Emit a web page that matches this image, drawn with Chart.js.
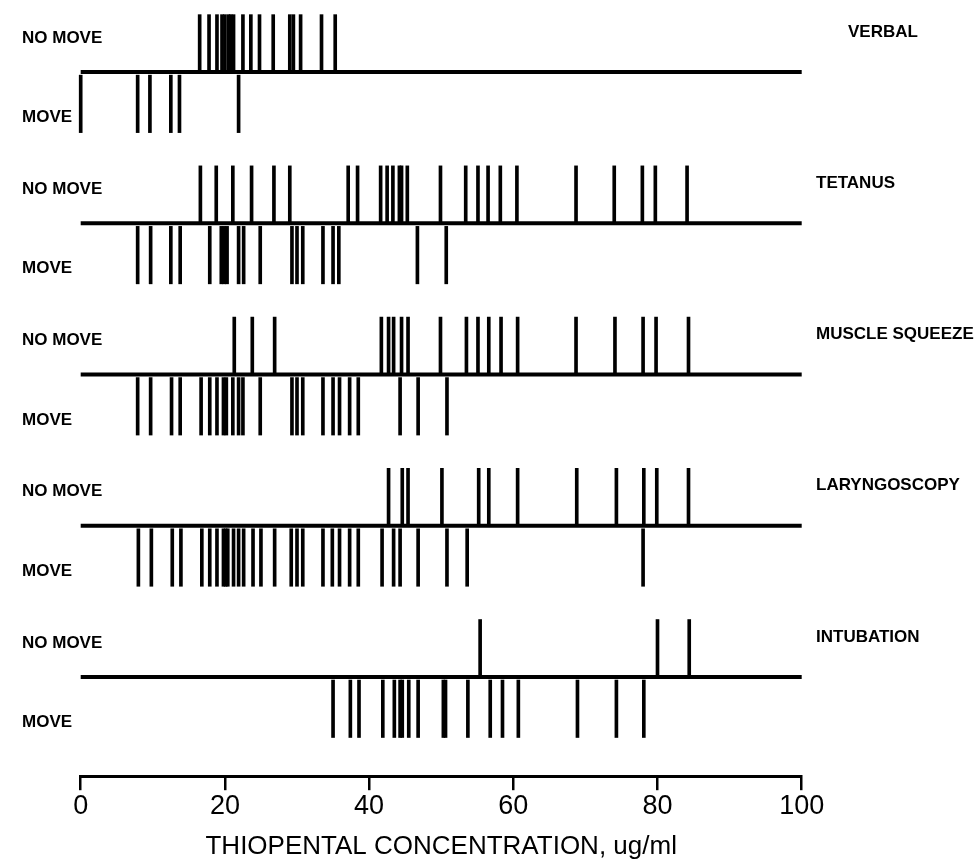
<!DOCTYPE html>
<html>
<head>
<meta charset="utf-8">
<title>Thiopental concentration</title>
<script src="https://cdn.jsdelivr.net/npm/chart.js@4/dist/chart.umd.min.js"></script>
<style>
  html, body { margin: 0; padding: 0; background: #fff; }
  #wrap { width: 978px; height: 865px; position: relative; }
</style>
</head>
<body>
<div id="wrap"><canvas id="stimChart"></canvas></div>
<script>
// stimulus rows, top to bottom
const categories = ['VERBAL', 'TETANUS', 'MUSCLE SQUEEZE', 'LARYNGOSCOPY', 'INTUBATION'];
const xTicks = [0, 20, 40, 60, 80, 100];

// concentrations (ug/ml)
const verbalNoMove = [16.5, 17.8, 18.9, 19.6, 20.0, 20.5, 20.8, 21.2, 22.5, 23.6, 24.8, 26.7, 29.0, 29.5, 30.5, 33.4, 35.3];
const verbalMove = [0, 7.9, 9.6, 12.5, 13.7, 21.9];

const tetanusNoMove = [16.6, 18.8, 21.1, 23.7, 26.8, 29.0, 37.1, 38.4, 41.6, 42.5, 43.3, 44.2, 44.5, 45.3, 49.9, 53.4, 55.1, 56.5, 58.2, 60.5, 68.7, 74.0, 77.9, 79.7, 84.1];
const tetanusMove = [7.9, 9.7, 12.5, 13.8, 17.9, 19.5, 19.9, 20.3, 21.9, 22.6, 24.9, 29.3, 30.0, 30.8, 33.6, 35.0, 35.8, 46.7, 50.7];

const muscleNoMove = [21.3, 23.8, 26.9, 41.7, 42.7, 43.4, 44.5, 45.4, 49.9, 53.5, 55.1, 56.6, 58.3, 60.6, 68.7, 74.1, 78.0, 79.8, 84.3];
const muscleMove = [7.9, 9.7, 12.6, 13.8, 16.7, 17.9, 18.9, 19.8, 20.2, 21.1, 21.9, 22.5, 24.9, 29.3, 30.0, 30.8, 33.6, 35.0, 35.9, 37.3, 38.5, 44.3, 46.8, 50.8];

const laryngNoMove = [42.7, 44.6, 45.4, 50.1, 55.2, 56.6, 60.6, 68.8, 74.3, 78.1, 79.9, 84.3];
const laryngMove = [8.0, 9.8, 12.7, 13.9, 16.8, 17.9, 18.9, 19.8, 20.1, 20.4, 21.2, 21.9, 22.6, 23.9, 25.0, 26.9, 29.2, 30.0, 30.8, 33.6, 34.9, 35.9, 37.3, 38.5, 41.8, 43.4, 44.3, 46.8, 50.8, 53.6, 78.0];

const intubNoMove = [55.4, 80.0, 84.4];
const intubMove = [35.0, 37.4, 38.6, 41.9, 43.5, 44.3, 44.6, 45.5, 46.8, 50.3, 50.6, 53.7, 56.8, 58.5, 60.7, 68.9, 74.3, 78.1];

const noMoveRows = [verbalNoMove, tetanusNoMove, muscleNoMove, laryngNoMove, intubNoMove];
const moveRows = [verbalMove, tetanusMove, muscleMove, laryngMove, intubMove];

// one row = one unit on the hidden y scale; bottom row sits at 0
const TICK_UP = [0.0, 0.38];
const TICK_DOWN = [-0.02, -0.40];
const FONT = '"Liberation Sans", Arial, sans-serif';

// all ticks go into one floating-bar dataset so bars stay centred on their x value
const tickBars = [];
categories.forEach(function (name, i) {
    const level = categories.length - 1 - i;
    noMoveRows[i].forEach(function (v) {
        tickBars.push({ x: v, y: [level + TICK_UP[0], level + TICK_UP[1]] });
    });
    moveRows[i].forEach(function (v) {
        tickBars.push({ x: v, y: [level + TICK_DOWN[0], level + TICK_DOWN[1]] });
    });
});

const baselines = categories.map(function (name, i) {
    const level = categories.length - 1 - i;
    return {
        type: 'line',
        label: name,
        data: [{ x: xTicks[0], y: level }, { x: xTicks[xTicks.length - 1], y: level }],
        borderColor: '#000',
        borderWidth: 4,
        pointRadius: 0,
        clip: false
    };
});

// text labels beside each row
const rowLabels = {
    id: 'rowLabels',
    afterDraw: function (chart) {
        const ctx = chart.ctx;
        const y = chart.scales.y;
        ctx.save();
        ctx.fillStyle = '#000';
        ctx.textBaseline = 'middle';
        ctx.textAlign = 'left';
        categories.forEach(function (name, i) {
            const level = categories.length - 1 - i;
            ctx.font = 'bold 17px ' + FONT;
            ctx.fillText('NO MOVE', 22, y.getPixelForValue(level + 0.225));
            ctx.fillText('MOVE', 22, y.getPixelForValue(level - 0.30));
            ctx.font = 'bold 17px ' + FONT;
            ctx.fillText(name, i === 0 ? 848 : 816, y.getPixelForValue(level + 0.265));
        });
        ctx.restore();
    }
};

const ctx = document.getElementById('stimChart').getContext('2d');
new Chart(ctx, {
    type: 'bar',
    data: {
        datasets: [{
            label: 'ticks',
            data: tickBars,
            backgroundColor: '#000',
            borderWidth: 0,
            barThickness: 3,
            clip: false
        }].concat(baselines)
    },
    options: {
        responsive: true,
        maintainAspectRatio: false,
        animation: false,
        layout: {
            autoPadding: false,
            padding: { left: 80.7, right: 176.3, top: 8, bottom: 0 }
        },
        scales: {
            x: {
                type: 'linear',
                min: 0,
                max: 100,
                offset: false,
                afterBuildTicks: function (scale) {
                    scale.ticks = xTicks.map(function (v) { return { value: v }; });
                },
                border: { display: true, color: '#000', width: 3 },
                grid: {
                    offset: false,
                    drawOnChartArea: false,
                    drawTicks: true,
                    tickLength: 14,
                    color: '#000',
                    lineWidth: 2.5
                },
                ticks: {
                    color: '#000',
                    padding: 0,
                    maxRotation: 0,
                    font: { family: FONT, size: 27 }
                },
                title: {
                    display: true,
                    text: 'THIOPENTAL CONCENTRATION, ug/ml',
                    color: '#000',
                    padding: { top: 8.8, bottom: 2.4 },
                    font: { family: FONT, size: 26 }
                }
            },
            y: {
                type: 'linear',
                display: false,
                min: -0.656,
                max: 4.424
            }
        },
        plugins: {
            legend: { display: false },
            tooltip: { enabled: false }
        }
    },
    plugins: [rowLabels]
});
</script>
</body>
</html>
